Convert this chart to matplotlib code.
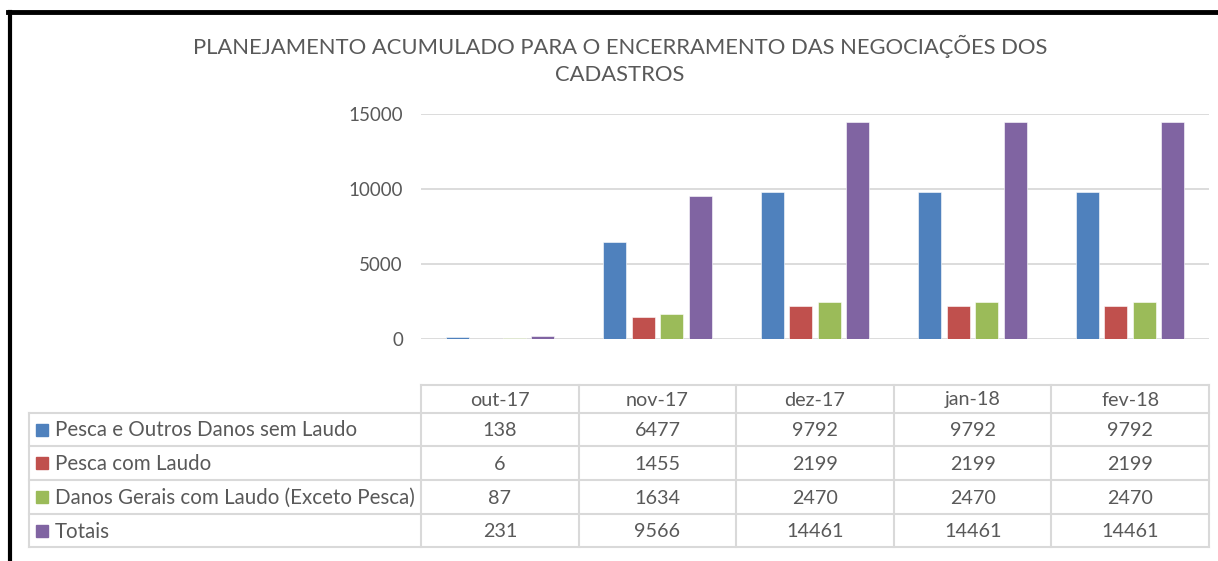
import matplotlib
matplotlib.use("Agg")
import matplotlib.pyplot as plt
import numpy as np
from matplotlib.lines import Line2D
from matplotlib.patches import Rectangle

# data
months = ["out-17", "nov-17", "dez-17", "jan-18", "fev-18"]
series_names = ["Pesca e Outros Danos sem Laudo", "Pesca com Laudo",
                "Danos Gerais com Laudo (Exceto Pesca)", "Totais"]
sem_laudo = [138, 6477, 9792, 9792, 9792]
pesca_laudo = [6, 1455, 2199, 2199, 2199]
danos_gerais = [87, 1634, 2470, 2470, 2470]
totais = [231, 9566, 14461, 14461, 14461]
colors = ["#4F81BD", "#C0504D", "#9BBB59", "#8064A2"]
title = "PLANEJAMENTO ACUMULADO PARA O ENCERRAMENTO DAS NEGOCIAÇÕES DOS\nCADASTROS"

plt.rcParams["font.family"] = ["Lato", "DejaVu Sans"]
W, H = 1218, 561
txt = "#595959"
grid = "#D9D9D9"

fig = plt.figure(figsize=(W / 100, H / 100), dpi=100)

def fx(px):
    return px / W

def fy(py):
    return 1 - py / H

# plot area
x0, x1, ytop, ybot = 421, 1209, 114, 339
ax = fig.add_axes([fx(x0), fy(ybot), fx(x1) - fx(x0), fy(ytop) - fy(ybot)])
values = [sem_laudo, pesca_laudo, danos_gerais, totais]
x = np.arange(len(months))
step, width = 0.181, 0.146
for i, vals in enumerate(values):
    ax.bar(x + (i - 1.5) * step, vals, width, color=colors[i],
           edgecolor="white", linewidth=0.4, zorder=3)
ax.set_xlim(-0.5, len(months) - 0.5)
ax.set_ylim(0, 15000)
ax.set_yticks([0, 5000, 10000, 15000])
ax.yaxis.grid(True, color=grid, linewidth=1.3, zorder=0)
ax.set_xticks([])
for s in ax.spines.values():
    s.set_visible(False)
ax.tick_params(axis="y", length=0, pad=13, labelsize=13.5, labelcolor=txt)
ax.patch.set_alpha(0)

fig.text(0.509, fy(60), title, ha="center", va="center", fontsize=15.8,
         color=txt, linespacing=1.45)

# data table
col_w = (x1 - x0) / len(months)
row_y = [385, 413, 446, 480, 514, 547]
lx = 29

def hline(px0, px1, py):
    fig.add_artist(Line2D([fx(px0), fx(px1)], [fy(py), fy(py)], color=grid, lw=1.5))

def vline(px, py0, py1):
    fig.add_artist(Line2D([fx(px), fx(px)], [fy(py0), fy(py1)], color=grid, lw=1.5))

hline(x0, x1, row_y[0])
for py in row_y[1:]:
    hline(lx, x1, py)
vline(lx, row_y[1], row_y[-1])
for j in range(len(months) + 1):
    vline(x0 + j * col_w, row_y[0], row_y[-1])

fs = 14.2
for j, m in enumerate(months):
    fig.text(fx(x0 + (j + 0.5) * col_w), fy((row_y[0] + row_y[1]) / 2 + 1), m,
             ha="center", va="center", fontsize=fs, color=txt)
for i, (name, vals) in enumerate(zip(series_names, values)):
    yc = (row_y[i + 1] + row_y[i + 2]) / 2
    fig.add_artist(Rectangle((fx(36), fy(yc + 6)), fx(12), 12 / H,
                             color=colors[i], transform=fig.transFigure))
    fig.text(fx(55), fy(yc + 1), name, ha="left", va="center", fontsize=14.8, color=txt)
    for j, v in enumerate(vals):
        fig.text(fx(x0 + (j + 0.5) * col_w), fy(yc + 1), str(v),
                 ha="center", va="center", fontsize=fs, color=txt)

# outer frame (top and left edges)
fig.add_artist(Line2D([fx(8), 1], [fy(12), fy(12)], color="black", lw=3.5))
fig.add_artist(Line2D([fx(10), fx(10)], [fy(12), 0], color="black", lw=3))

fig.savefig("out.png", dpi=100)
